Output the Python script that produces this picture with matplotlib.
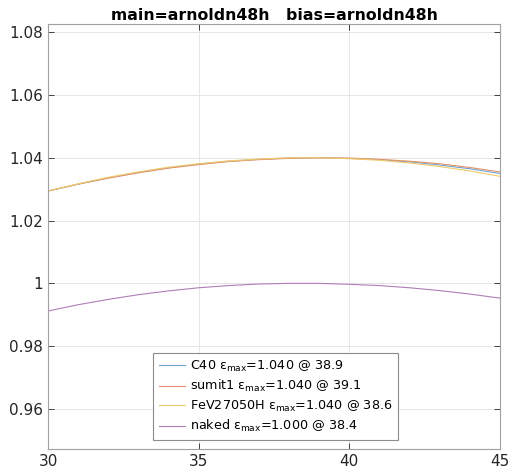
import matplotlib
matplotlib.use("Agg")
import matplotlib.pyplot as plt

x = [30, 31, 32, 33, 34, 35, 36, 37, 38, 39, 40, 41, 42, 43, 44, 45]
c40 = [1.0294, 1.0316, 1.0336, 1.0353, 1.0368, 1.0380, 1.0389, 1.0395,
       1.0399, 1.0400, 1.0398, 1.0394, 1.0387, 1.0377, 1.0365, 1.0350]
sumit1 = [1.0294, 1.0316, 1.0335, 1.0352, 1.0367, 1.0378, 1.0388, 1.0394,
          1.0398, 1.0400, 1.0399, 1.0395, 1.0389, 1.0381, 1.0369, 1.0355]
fev = [1.0294, 1.0317, 1.0338, 1.0355, 1.0370, 1.0381, 1.0390, 1.0396,
       1.0400, 1.0400, 1.0397, 1.0392, 1.0383, 1.0372, 1.0358, 1.0341]
naked = [0.9912, 0.9932, 0.9949, 0.9964, 0.9976, 0.9986, 0.9993, 0.9998,
         1.0000, 1.0000, 0.9997, 0.9993, 0.9986, 0.9977, 0.9966, 0.9953]

names = ["C40", "sumit1", "FeV27050H", "naked"]
emax = ["1.040", "1.040", "1.040", "1.000"]
xmax = ["38.9", "39.1", "38.6", "38.4"]
series = [c40, sumit1, fev, naked]
colors = ["#6aa6d2", "#e8906b", "#f0cb6a", "#b07db8"]

xticks = [30, 35, 40, 45]
yticks = [0.96, 0.98, 1.00, 1.02, 1.04, 1.06, 1.08]
ytick_labels = ["0.96", "0.98", "1", "1.02", "1.04", "1.06", "1.08"]

fig = plt.figure(figsize=(5.08, 4.73), dpi=100)
ax = fig.add_axes([0.0945, 0.0497, 0.8895, 0.8996])

for name, e, xm, ys, c in zip(names, emax, xmax, series, colors):
    ax.plot(x, ys, color=c, lw=0.8,
            label=f"{name} ε$_{{\\mathrm{{max}}}}$={e} @ {xm}")

ax.set_xlim(30, 45)
ax.set_ylim(0.9471, 1.0826)
ax.set_xticks(xticks)
ax.set_yticks(yticks)
ax.set_yticklabels(ytick_labels)
ax.grid(True, color="#e6e6e6", lw=0.7)
ax.set_axisbelow(True)
ax.tick_params(direction="in", top=True, right=True, labelsize=11,
               colors="#262626", length=4, width=0.6)
for s in ax.spines.values():
    s.set_color("#a0a0a0")
    s.set_linewidth(0.8)

ax.set_title("main=arnoldn48h   bias=arnoldn48h", fontsize=11.3,
             fontweight="bold", pad=3)

leg = ax.legend(loc="lower left", bbox_to_anchor=(0.232, 0.022),
                fontsize=9.2, fancybox=False, framealpha=1,
                edgecolor="#8c8c8c", handlelength=2.1, borderpad=0.45,
                labelspacing=0.35, handletextpad=0.35, borderaxespad=0)
leg.get_frame().set_linewidth(0.8)

fig.savefig("out.png", dpi=100)
